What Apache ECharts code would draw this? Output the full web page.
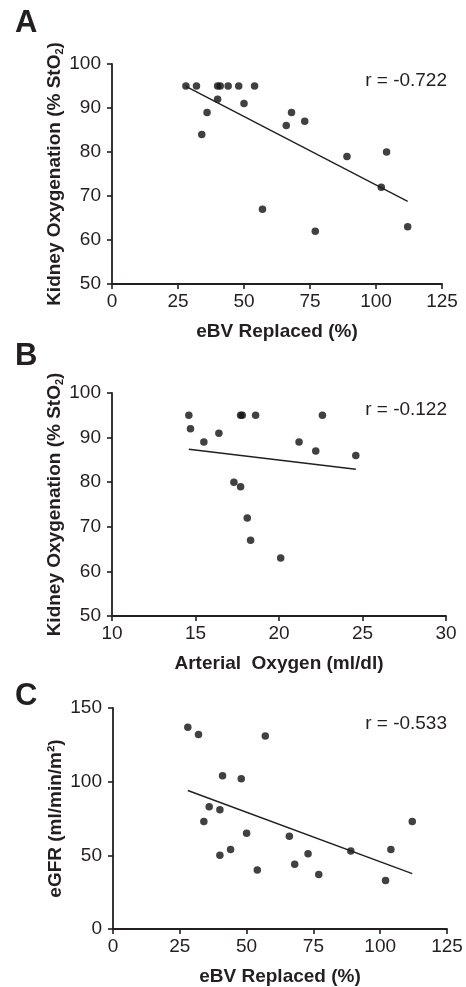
<!DOCTYPE html>
<html>
<head>
<meta charset="utf-8">
<title>Kidney oxygenation and eGFR</title>
<script src="https://cdn.jsdelivr.net/npm/echarts@6/dist/echarts.min.js"></script>
<style>
  html, body { margin: 0; padding: 0; background: #fff; }
  #chart { width: 466px; height: 987px; }
</style>
</head>
<body>
<div id="chart"></div>
<script>
// Panel A: eBV replaced vs kidney StO2
const ebvA = [28, 32, 34, 36, 40, 40, 41, 44, 48, 50, 54, 57, 66, 68, 73, 77, 89, 102, 104, 112];
const stoA = [95, 95, 84, 89, 92, 95, 95, 95, 95, 91, 95, 67, 86, 89, 87, 62, 79, 72, 80, 63];
const fitA = [[28, 94.9], [112, 68.8]];

// Panel B: arterial oxygen vs kidney StO2
const artB = [14.6, 14.7, 15.5, 16.4, 17.3, 17.7, 17.7, 17.8, 18.1, 18.3, 18.6, 20.1, 21.2, 22.2, 22.6, 24.6];
const stoB = [95, 92, 89, 91, 80, 95, 79, 95, 72, 67, 95, 63, 89, 87, 95, 86];
const fitB = [[14.6, 87.4], [24.6, 82.9]];

// Panel C: eBV replaced vs eGFR
const ebvC = [28, 32, 34, 36, 40, 40, 41, 44, 48, 50, 54, 57, 66, 68, 73, 77, 89, 102, 104, 112];
const gfrC = [137, 132, 73, 83, 81, 50, 104, 54, 102, 65, 40, 131, 63, 44, 51, 37, 53, 33, 54, 73];
const fitC = [[28, 94], [112, 37.6]];

const panelLabels = ["A", "B", "C"];
const rLabels = ["r = -0.722", "r = -0.122", "r = -0.533"];
const xNames = ["eBV Replaced (%)", "Arterial  Oxygen (ml/dl)", "eBV Replaced (%)"];
const yNames = [
  "{b|Kidney Oxygenation (% StO}{s|2}{b|)}",
  "{b|Kidney Oxygenation (% StO}{s|2}{b|)}",
  "{b|eGFR (ml/min/m²)}"
];
const xRanges = [[0, 125, 25], [10, 30, 5], [0, 125, 25]];
const yRanges = [[50, 100, 10], [50, 100, 10], [0, 150, 50]];

const ink = "#231f20";
const font = "'Liberation Sans', Arial, sans-serif";

const zip = (xs, ys) => xs.map((x, i) => [x, ys[i]]);

const grids = [
  { left: 112, top: 64, width: 330, height: 220 },
  { left: 112, top: 393, width: 334, height: 223 },
  { left: 113, top: 708, width: 334, height: 223 }
];

function xAxisFor(i) {
  const [min, max, interval] = xRanges[i];
  return {
    gridIndex: i, type: "value", min, max, interval,
    name: xNames[i], nameLocation: "middle", nameGap: 38, nameMoveOverlap: false,
    nameTextStyle: { color: ink, fontFamily: font, fontWeight: "bold", fontSize: 19 },
    axisLine: { lineStyle: { color: ink, width: 1.8 } },
    axisTick: { length: 5, lineStyle: { color: ink, width: 1.6 } },
    axisLabel: { color: ink, fontFamily: font, fontSize: 19, margin: 8 },
    splitLine: { show: false }
  };
}

function yAxisFor(i) {
  const [min, max, interval] = yRanges[i];
  return {
    gridIndex: i, type: "value", min, max, interval,
    name: yNames[i], nameLocation: "middle", nameGap: 47, nameMoveOverlap: false,
    nameTextStyle: {
      rich: {
        b: { color: ink, fontFamily: font, fontWeight: "bold", fontSize: 19, lineHeight: 20 },
        s: { color: ink, fontFamily: font, fontWeight: "bold", fontSize: 11, verticalAlign: "bottom", lineHeight: 20 }
      }
    },
    axisLine: { show: true, lineStyle: { color: ink, width: 1.8 } },
    axisTick: { show: true, length: 5, lineStyle: { color: ink, width: 1.6 } },
    axisLabel: { color: ink, fontFamily: font, fontSize: 19, margin: 11 },
    splitLine: { show: false }
  };
}

const scatterData = [zip(ebvA, stoA), zip(artB, stoB), zip(ebvC, gfrC)];
const fits = [fitA, fitB, fitC];

const series = [];
for (let i = 0; i < 3; i++) {
  series.push({
    type: "line", xAxisIndex: i, yAxisIndex: i, data: fits[i],
    symbol: "none", lineStyle: { color: ink, width: 1.4 }, silent: true
  });
  series.push({
    type: "scatter", xAxisIndex: i, yAxisIndex: i, data: scatterData[i],
    symbolSize: 7.5, itemStyle: { color: "#111" }
  });
}

// panel letters and r values
const labelTops = [8, 341, 681];
const rTops = [71, 400, 714];
const titles = [];
for (let i = 0; i < 3; i++) {
  titles.push({
    text: panelLabels[i], left: 15, top: labelTops[i], padding: 0,
    textStyle: { color: ink, fontFamily: font, fontWeight: "bold", fontSize: 31 }
  });
  titles.push({
    text: rLabels[i], right: 19, top: rTops[i], padding: 0,
    textStyle: { color: ink, fontFamily: font, fontWeight: "normal", fontSize: 19 }
  });
}

const chart = echarts.init(document.getElementById("chart"), null, { renderer: "canvas" });
chart.setOption({
  backgroundColor: "#fff",
  animation: false,
  title: titles,
  grid: grids,
  xAxis: [0, 1, 2].map(xAxisFor),
  yAxis: [0, 1, 2].map(yAxisFor),
  series: series
});
</script>
</body>
</html>
